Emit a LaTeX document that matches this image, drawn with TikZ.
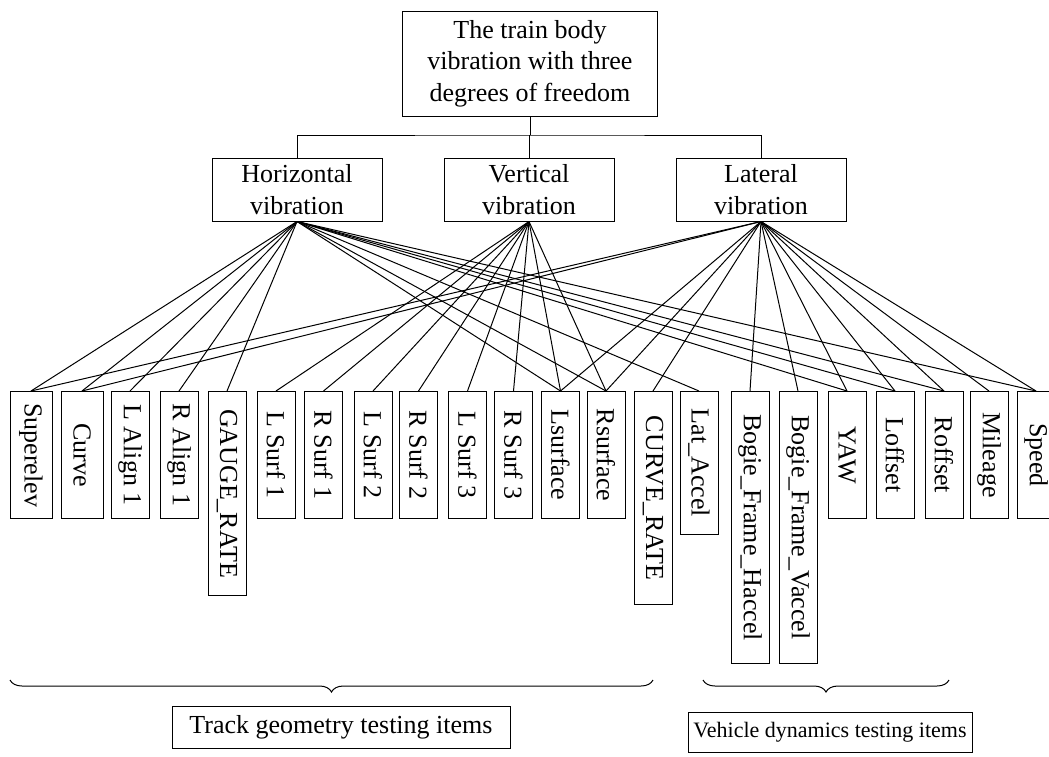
\documentclass[tikz,border=0pt]{standalone}
\usepackage{fontspec}
\setmainfont{Liberation Serif}
\usepackage{tikz}
\usepackage{xcolor}
\usetikzlibrary{decorations.pathreplacing}
\definecolor{dblack}{HTML}{000000}
\tikzset{
	box/.style={draw=dblack, line width=0.5pt, align=center, inner sep=0pt},
	itembox/.style={draw=dblack, line width=0.5pt, rotate=-90, anchor=west, minimum width=63.5pt, minimum height=19pt, inner xsep=4pt, inner ysep=0pt},
	link/.style={color=dblack, line width=0.5pt},
}

\begin{document}
\begin{tikzpicture}[x=0.5pt, y=-0.5pt, font=\fontsize{13pt}{15.75pt}\selectfont]
		\useasboundingbox (0,0) rectangle (1049,756);
		% top and second level
		\node[box, minimum width=127.5pt, minimum height=52.5pt] (body) at (530,63.5) {The train body\\vibration with three\\degrees of freedom};
		\node[box, minimum width=85pt, minimum height=31.5pt] (hor) at (297,189.5) {Horizontal\\vibration};
		\node[box, minimum width=85pt, minimum height=31.5pt] (ver) at (529,189.5) {Vertical\\vibration};
		\node[box, minimum width=85pt, minimum height=31.5pt] (lat) at (761,189.5) {Lateral\\vibration};
		\coordinate (bus) at (530,135);
		\draw[link] (body.south) -- (bus);
		\draw[link] (hor.north) |- (bus) -| (lat.north);
		\draw[link] (ver.north) -- (ver.north |- bus);
		% testing items
		\node[itembox, minimum height=21pt] (sup) at (31,391) {Superelev};
		\node[itembox, minimum height=21pt] (cur) at (82,391) {Curve};
		\node[itembox] (la1) at (130,391) {L Align 1};
		\node[itembox] (ra1) at (179,391) {R Align 1};
		\node[itembox, minimum width=102pt] (gr) at (227,391) {GAUGE\_RATE};
		\node[itembox] (ls1) at (276,391) {L Surf 1};
		\node[itembox] (rs1) at (323.5,391) {R Surf 1};
		\node[itembox] (ls2) at (373,391) {L Surf 2};
		\node[itembox] (rs2) at (418.5,391) {R Surf 2};
		\node[itembox] (ls3) at (467.5,391) {L Surf 3};
		\node[itembox] (rs3) at (513.5,391) {R Surf 3};
		\node[itembox] (lsf) at (560.5,391) {Lsurface};
		\node[itembox] (rsf) at (606,391) {Rsurface};
		\node[itembox, minimum width=106.5pt] (cr) at (653,391) {CURVE\_RATE};
		\node[itembox, minimum width=71.5pt] (lac) at (699,391) {Lat\_Accel};
		\node[itembox, minimum width=136pt] (bfh) at (750,391) {Bogie\_Frame\_Haccel};
		\node[itembox, minimum width=136pt] (bfv) at (798,391) {Bogie\_Frame\_Vaccel};
		\node[itembox] (yaw) at (847,391) {YAW};
		\node[itembox] (lof) at (895,391) {Loffset};
		\node[itembox] (rof) at (944,391) {Roffset};
		\node[itembox] (mil) at (989,391) {Mileage};
		\node[itembox] (spd) at (1036,391) {Speed};
		% horizontal vibration
		\draw[link] (hor.south) -- (sup.west);
		\draw[link] (hor.south) -- (cur.west);
		\draw[link] (hor.south) -- (la1.west);
		\draw[link] (hor.south) -- (ra1.west);
		\draw[link] (hor.south) -- (gr.west);
		\draw[link] (hor.south) -- (lsf.west);
		\draw[link] (hor.south) -- (rsf.west);
		\draw[link] (hor.south) -- (lac.west);
		\draw[link] (hor.south) -- (yaw.west);
		\draw[link] (hor.south) -- (lof.west);
		\draw[link] (hor.south) -- (rof.west);
		\draw[link] (hor.south) -- (spd.west);
		% vertical vibration
		\draw[link] (ver.south) -- (ls1.west);
		\draw[link] (ver.south) -- (rs1.west);
		\draw[link] (ver.south) -- (ls2.west);
		\draw[link] (ver.south) -- (rs2.west);
		\draw[link] (ver.south) -- (ls3.west);
		\draw[link] (ver.south) -- (rs3.west);
		\draw[link] (ver.south) -- (lsf.west);
		\draw[link] (ver.south) -- (rsf.west);
		% lateral vibration
		\draw[link] (lat.south) -- (sup.west);
		\draw[link] (lat.south) -- (cur.west);
		\draw[link] (lat.south) -- (lsf.west);
		\draw[link] (lat.south) -- (rsf.west);
		\draw[link] (lat.south) -- (cr.west);
		\draw[link] (lat.south) -- (bfh.west);
		\draw[link] (lat.south) -- (bfv.west);
		\draw[link] (lat.south) -- (yaw.west);
		\draw[link] (lat.south) -- (lof.west);
		\draw[link] (lat.south) -- (rof.west);
		\draw[link] (lat.south) -- (mil.west);
		\draw[link] (lat.south) -- (spd.west);
		% groups
		\draw[link, decorate, decoration={brace, mirror, amplitude=6pt}] (10,680) -- (653,680);
		\draw[link, decorate, decoration={brace, mirror, amplitude=6pt}] (703,680) -- (949,680);
		\node[box, minimum width=169pt, minimum height=21pt] (track) at (341,727) {Track geometry testing items};
		\node[box, minimum width=142pt, minimum height=20pt, font=\fontsize{11pt}{13pt}\selectfont] (vehicle) at (830,732) {Vehicle dynamics testing items};
	\end{tikzpicture}
\end{document}
